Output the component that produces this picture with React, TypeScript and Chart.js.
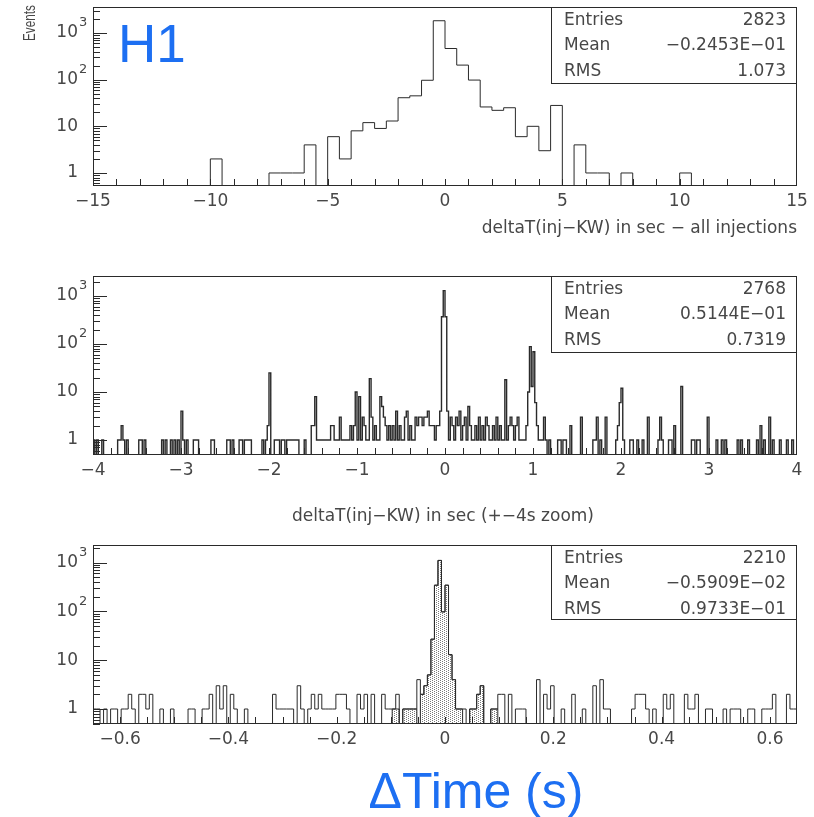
import React, { useEffect, useRef } from "react";
import { Chart, registerables } from "chart.js";

Chart.register(...registerables);

// ---- Panel 1: all injections, 0.5 s bins over ±15 s (left bin edge -> entries)
const allBinLeft = [-10, -7.5, -7, -6.5, -6, -5, -4.5, -4, -3.5, -3, -2.5, -2, -1.5, -1, -0.5, 0, 0.5, 1, 1.5, 2, 2.5, 3, 3.5, 4, 4.5, 5.5, 6, 6.5, 7.5, 10];
const allCounts = [2, 1, 1, 1, 4, 6, 2, 8, 12, 9, 13, 41, 45, 97, 1830, 465, 205, 98, 26, 22, 25, 6, 10, 3, 28, 4, 1, 1, 1, 1];

// ---- Panel 2: ±4 s zoom, 0.02 s bins (left bin edge -> entries)
const zoomBinLeft = [
  -4.0, -3.96, -3.9,
  -3.72, -3.7, -3.68, -3.66, -3.62,
  -3.48, -3.46, -3.42,
  -3.22, -3.18, -3.12, -3.08, -3.04, -3.0, -2.98,
  -2.94, -2.86, -2.84, -2.82,
  -2.66, -2.64,
  -2.48, -2.46, -2.42,
  -2.34, -2.32, -2.28, -2.26, -2.24, -2.22,
  -2.08, -2.04, -2.02, -2.0,
  -1.94, -1.92, -1.9, -1.86, -1.84, -1.8, -1.78, -1.76, -1.74, -1.72, -1.7, -1.68,
  -1.6,
  -1.52, -1.5, -1.48, -1.46, -1.44, -1.42, -1.4,
  -1.38, -1.36, -1.34, -1.32, -1.3, -1.28, -1.26, -1.24, -1.22,
  -1.2, -1.18, -1.16, -1.14, -1.12, -1.1,
  -1.08, -1.06, -1.04, -1.02, -1.0, -0.98, -0.96,
  -0.94, -0.92, -0.9, -0.88, -0.86, -0.84, -0.82, -0.8, -0.78,
  -0.76, -0.74, -0.72, -0.7, -0.68, -0.66, -0.64,
  -0.62, -0.6, -0.58, -0.56, -0.54,
  -0.52, -0.5, -0.48, -0.46, -0.44, -0.42, -0.4,
  -0.38, -0.36, -0.34, -0.32, -0.3, -0.28, -0.26, -0.24, -0.22, -0.2, -0.18,
  -0.16, -0.14, -0.12, -0.1, -0.08, -0.06,
  -0.04, -0.02, 0.0, 0.02,
  0.04, 0.06, 0.08, 0.1, 0.12, 0.14, 0.16, 0.18, 0.2, 0.22, 0.24, 0.26, 0.28, 0.3,
  0.32, 0.34, 0.36, 0.38, 0.4, 0.42, 0.44, 0.46, 0.48,
  0.5, 0.52, 0.54, 0.56, 0.58, 0.6, 0.62, 0.64, 0.66, 0.68, 0.7,
  0.72, 0.74, 0.76, 0.78, 0.8, 0.82, 0.84, 0.86,
  0.88, 0.9, 0.92, 0.94, 0.96, 0.98, 1.0, 1.02,
  1.04, 1.06, 1.08, 1.1, 1.12, 1.14, 1.18,
  1.28, 1.3, 1.34, 1.36, 1.42, 1.54,
  1.68, 1.7, 1.72, 1.76, 1.82,
  1.94, 1.96, 1.98, 2.0, 2.02,
  2.1, 2.12, 2.18, 2.24, 2.3,
  2.42, 2.44, 2.46, 2.54, 2.56, 2.6,
  2.68,
  2.8, 2.82, 2.86, 2.88,
  2.98, 3.08, 3.14, 3.18,
  3.32, 3.36, 3.44, 3.54, 3.58, 3.62, 3.68, 3.72, 3.8, 3.88, 3.94,
];
const zoomCounts = [
  1, 1, 1,
  1, 1, 2, 1, 1,
  1, 1, 1,
  1, 1, 1, 1, 1, 4, 1,
  1, 1, 1, 1,
  1, 1,
  1, 1, 1,
  1, 1, 1, 1, 1, 1,
  1, 1, 2, 25,
  1, 1, 1, 1, 1, 1, 1, 1, 1, 1, 1, 1,
  1,
  2, 2, 8, 1, 1, 1, 1,
  1, 1, 1, 1, 2, 2, 1, 1, 1,
  3, 1, 1, 1, 1, 1,
  2, 1, 2, 10, 1, 8, 1,
  3, 2, 1, 1, 19, 3, 1, 2, 1,
  1, 8, 5, 3, 2, 1, 2,
  1, 2, 1, 4, 1,
  2, 1, 1, 3, 4, 1, 2,
  1, 1, 3, 2, 3, 3, 2, 3, 3, 4, 2,
  2, 2, 1, 2, 2, 4,
  370, 1290, 370, 4,
  1, 3, 2, 1, 3, 2, 4, 1, 2, 3, 1, 5, 2, 1,
  1, 2, 1, 3, 1, 2, 1, 3, 2,
  1, 1, 2, 1, 3, 1, 2, 1, 1, 18, 1,
  2, 3, 2, 1, 2, 3, 1, 1,
  1, 1, 2, 10, 88, 13, 69, 6,
  2, 1, 1, 1, 3, 1, 1,
  1, 1, 1, 1, 2, 3,
  1, 1, 3, 1, 3,
  1, 2, 6, 12, 1,
  1, 1, 1, 1, 3,
  1, 3, 1, 1, 1, 2,
  13,
  1, 1, 1, 1,
  3, 1, 1, 1,
  1, 1, 1, 1, 2, 1, 3, 1, 1, 1, 1,
];

// ---- Panel 3: ±0.65 s, 200 bins of 0.0065 s (bin index -> entries)
const fineBins = [
  0, 1, 3, 5, 6, 8, 9, 10, 11, 13, 14, 15, 16, 19, 22, 27, 28, 31, 32, 33, 35, 36, 37, 39, 40, 43,
  51, 52, 53, 54, 55, 56, 58, 59, 61, 62, 63, 64, 65, 66, 67, 68, 69, 70, 71, 72, 75, 76, 77, 79,
  82, 83, 84, 85, 86, 88, 89, 90, 91, 92, 93, 94, 95, 96, 97, 98, 99, 100, 101, 102, 103, 104, 105,
  107, 108, 109, 110, 113, 114, 115, 116, 118, 120, 121, 122, 126, 128, 129, 130, 133, 136, 139,
  142, 144, 145, 146, 153, 154, 155, 156, 157, 159, 162, 163, 164, 168, 169, 170, 171, 174, 175,
  179, 181, 182, 183, 186, 187, 190, 191, 192, 193, 197, 198, 199,
];
const fineCounts = [
  1, 1, 1, 1, 1, 1, 1, 2, 1, 2, 2, 1, 2, 1, 1, 1, 1, 1, 1, 2, 3, 1, 3, 2, 1, 1,
  2, 1, 1, 1, 1, 1, 3, 1, 1, 2, 1, 2, 1, 1, 1, 1, 2, 2, 2, 1, 2, 1, 2, 2,
  2, 1, 1, 1, 2, 1, 1, 1, 1, 4, 2, 3, 5, 27, 345, 1110, 98, 345, 13, 4, 1, 1, 1,
  1, 1, 2, 3, 1, 1, 2, 2, 2, 1, 1, 1, 4, 2, 1, 3, 1, 2, 1,
  3, 4, 1, 1, 1, 2, 2, 2, 1, 1, 2, 1, 2, 2, 1, 1, 2, 1, 1,
  1, 1, 1, 1, 1, 1, 1, 1, 1, 2, 2, 1, 1,
];
// entries inside the coincidence window (stippled)
const windowBins = [85, 86, 88, 89, 90, 91, 93, 94, 95, 96, 97, 98, 99, 100, 101, 102, 103, 104, 107, 108, 109, 110, 113, 114];
const windowCounts = [1, 1, 1, 1, 1, 1, 2, 3, 5, 27, 345, 1110, 98, 345, 13, 4, 1, 1, 1, 1, 2, 3, 1, 1];

// ---- axis labels
const yLabelValues = [1, 10, 100, 1000];
const yLabelBase = ["1", "10", "10", "10"];
const yLabelExp = ["", "", "2", "3"];
const allTicks = [-15, -10, -5, 0, 5, 10, 15];
const allTickText = ["\u221215", "\u221210", "\u22125", "0", "5", "10", "15"];
const zoomTicks = [-4, -3, -2, -1, 0, 1, 2, 3, 4];
const zoomTickText = ["\u22124", "\u22123", "\u22122", "\u22121", "0", "1", "2", "3", "4"];
const fineTicks = [-0.6, -0.4, -0.2, 0, 0.2, 0.4, 0.6];
const fineTickText = ["\u22120.6", "\u22120.4", "\u22120.2", "0", "0.2", "0.4", "0.6"];

const FLOOR = 1e-3;
const INK = "#2a2a2a";
const TEXT = "#474747";
const BLUE = "#1d6ff2";
const FONT = '"DejaVu Sans", "Liberation Sans", sans-serif';

function stepPoints(lo: number, width: number, nBins: number, lefts: number[], counts: number[]) {
  const vals: number[] = new Array(nBins).fill(FLOOR);
  lefts.forEach((l, i) => {
    const k = Math.round((l - lo) / width);
    if (k >= 0 && k < nBins) vals[k] = counts[i];
  });
  const pts = [{ x: lo, y: FLOOR }];
  for (let k = 0; k < nBins; k++) pts.push({ x: lo + k * width, y: vals[k] });
  pts.push({ x: lo + nBins * width, y: FLOOR });
  return pts;
}

function stipple(): CanvasPattern | string {
  const c = document.createElement("canvas");
  c.width = 4;
  c.height = 2;
  const g = c.getContext("2d");
  if (!g) return "#d6d6d6";
  g.fillStyle = "#7a7a7a";
  g.fillRect(0, 0, 1, 1);
  g.fillRect(2, 1, 1, 1);
  return g.createPattern(c, "repeat") || "#d6d6d6";
}

type Extra = {
  text: string;
  x: number;
  y: number;
  font: string;
  color: string;
  align: CanvasTextAlign;
  rotate?: boolean;
  length?: number;
};

type PawOpts = {
  minorStep: number;
  tickValues: number[];
  tickText: string[];
  stats: [string, string][];
  statsHeight: number;
  title?: { text: string; x: number; y: number; align: CanvasTextAlign };
  extra?: Extra[];
};

const pawPlugin = {
  id: "paw",
  afterDraw(chart: any, _args: any, o: PawOpts) {
    const { ctx, chartArea: a } = chart;
    const x = chart.scales.x;
    const y = chart.scales.y;
    ctx.save();
    ctx.strokeStyle = INK;
    ctx.lineWidth = 1;

    // frame
    ctx.strokeRect(a.left + 0.5, a.top + 0.5, a.right - a.left - 1, a.bottom - a.top - 1);

    // log ticks on the left edge, pointing inwards
    ctx.beginPath();
    const d0 = Math.floor(Math.log10(y.min));
    const d1 = Math.ceil(Math.log10(y.max));
    for (let d = d0; d <= d1; d++) {
      for (let m = 1; m <= 9; m++) {
        const v = m * Math.pow(10, d);
        if (v < y.min || v > y.max) continue;
        const py = Math.round(y.getPixelForValue(v)) + 0.5;
        const len = m === 1 ? 14 : 7;
        ctx.moveTo(a.left, py);
        ctx.lineTo(a.left + len, py);
      }
    }
    // x ticks on the bottom edge
    const n = Math.round((x.max - x.min) / o.minorStep);
    for (let i = 1; i < n; i++) {
      const v = x.min + i * o.minorStep;
      const px = Math.round(x.getPixelForValue(v)) + 0.5;
      ctx.moveTo(px, a.bottom);
      ctx.lineTo(px, a.bottom - 7);
    }
    ctx.stroke();

    // y labels
    ctx.fillStyle = TEXT;
    ctx.textBaseline = "middle";
    yLabelValues.forEach((v, i) => {
      const py = y.getPixelForValue(v);
      ctx.font = `17px ${FONT}`;
      ctx.textAlign = "right";
      ctx.fillText(yLabelBase[i], 78, py);
      if (yLabelExp[i]) {
        ctx.font = `13px ${FONT}`;
        ctx.textAlign = "left";
        ctx.fillText(yLabelExp[i], 79, py - 10);
      }
    });

    // x labels
    ctx.font = `17px ${FONT}`;
    ctx.textAlign = "center";
    o.tickValues.forEach((v, i) => {
      ctx.fillText(o.tickText[i], x.getPixelForValue(v), a.bottom + 16);
    });

    // statistics box
    const bx = 551;
    ctx.fillStyle = "#fff";
    ctx.fillRect(bx + 1, a.top + 1, a.right - bx - 2, o.statsHeight - 1);
    ctx.strokeRect(bx + 0.5, a.top + 0.5, a.right - bx - 1, o.statsHeight);
    ctx.fillStyle = TEXT;
    o.stats.forEach(([k, v], i) => {
      const ty = a.top + 13.5 + i * 25.3;
      ctx.textAlign = "left";
      ctx.fillText(k, 564, ty);
      ctx.textAlign = "right";
      ctx.fillText(v, 786, ty);
    });

    if (o.title) {
      ctx.textAlign = o.title.align;
      ctx.fillText(o.title.text, o.title.x, o.title.y);
    }

    (o.extra || []).forEach((e) => {
      ctx.save();
      ctx.font = e.font;
      ctx.fillStyle = e.color;
      ctx.textAlign = e.align;
      ctx.textBaseline = "alphabetic";
      if (e.rotate) {
        ctx.translate(e.x, e.y);
        ctx.rotate(-Math.PI / 2);
        const tw = ctx.measureText(e.text).width;
        if (e.length && tw > 0) ctx.scale(e.length / tw, 1);
        ctx.fillText(e.text, 0, 0);
      } else {
        ctx.fillText(e.text, e.x, e.y);
      }
      ctx.restore();
    });
    ctx.restore();
  },
};

function makeChart(
  canvas: HTMLCanvasElement,
  datasets: any[],
  xr: [number, number],
  yr: [number, number],
  padding: { left: number; right: number; top: number; bottom: number },
  paw: PawOpts
) {
  return new Chart(canvas, {
    type: "line",
    data: { datasets },
    options: {
      animation: false,
      responsive: false,
      devicePixelRatio: 1,
      events: [],
      layout: { padding },
      elements: { point: { radius: 0 }, line: { tension: 0 } },
      plugins: { legend: { display: false }, tooltip: { enabled: false }, paw } as any,
      scales: {
        x: { type: "linear", min: xr[0], max: xr[1], display: false },
        y: { type: "logarithmic", min: yr[0], max: yr[1], display: false },
      },
    },
    plugins: [pawPlugin as any],
  });
}

function outline(data: any[], width = 1) {
  return { data, stepped: true, borderColor: INK, borderWidth: width, fill: false, pointRadius: 0, clip: 0 };
}

export default function App() {
  const c1 = useRef<HTMLCanvasElement>(null);
  const c2 = useRef<HTMLCanvasElement>(null);
  const c3 = useRef<HTMLCanvasElement>(null);

  useEffect(() => {
    if (!c1.current || !c2.current || !c3.current) return;
    const charts: Chart[] = [];

    charts.push(
      makeChart(
        c1.current,
        [outline(stepPoints(-15, 0.5, 60, allBinLeft, allCounts))],
        [-15, 15],
        [0.526, 3606],
        { left: 93, right: 17, top: 7, bottom: 59 },
        {
          minorStep: 1,
          tickValues: allTicks,
          tickText: allTickText,
          stats: [["Entries", "2823"], ["Mean", "\u22120.2453E\u221201"], ["RMS", "1.073"]],
          statsHeight: 76,
          title: { text: "deltaT(inj\u2212KW) in sec \u2212 all injections", x: 797, y: 229, align: "right" },
          extra: [
            { text: "Events", x: 35, y: 41, font: `17px "Liberation Sans", Arial, sans-serif`, color: TEXT, align: "left", rotate: true, length: 36 },
            { text: "H1", x: 118, y: 62, font: '53px "Liberation Sans", Arial, sans-serif', color: BLUE, align: "left" },
          ],
        }
      )
    );

    charts.push(
      makeChart(
        c2.current,
        [outline(stepPoints(-4, 0.02, 400, zoomBinLeft, zoomCounts), 1.4)],
        [-4, 4],
        [0.488, 2607],
        { left: 93, right: 17, top: 26, bottom: 75 },
        {
          minorStep: 0.2,
          tickValues: zoomTicks,
          tickText: zoomTickText,
          stats: [["Entries", "2768"], ["Mean", "0.5144E\u221201"], ["RMS", "0.7319"]],
          statsHeight: 76,
          title: { text: "deltaT(inj\u2212KW) in sec (+\u22124s zoom)", x: 443, y: 267, align: "center" },
        }
      )
    );

    const w = 0.0065;
    charts.push(
      makeChart(
        c3.current,
        [
          {
            data: stepPoints(-0.65, w, 200, windowBins.map((b) => -0.65 + b * w), windowCounts),
            stepped: true,
            borderColor: INK,
            borderWidth: 1,
            backgroundColor: stipple(),
            fill: "start",
            pointRadius: 0,
            clip: 0,
          },
          outline(stepPoints(-0.65, w, 200, fineBins.map((b) => -0.65 + b * w), fineCounts)),
        ],
        [-0.65, 0.65],
        [0.493, 2300],
        { left: 93, right: 17, top: 15, bottom: 93 },
        {
          minorStep: 0.05,
          tickValues: fineTicks,
          tickText: fineTickText,
          stats: [["Entries", "2210"], ["Mean", "\u22120.5909E\u221202"], ["RMS", "0.9733E\u221201"]],
          statsHeight: 74,
          extra: [
            { text: "\u0394Time (s)", x: 476, y: 278, font: '50px "Liberation Sans", Arial, sans-serif', color: BLUE, align: "center" },
          ],
        }
      )
    );

    return () => charts.forEach((c) => c.destroy());
  }, []);

  const pos = (top: number): React.CSSProperties => ({ position: "absolute", left: 0, top });
  return (
    <div style={{ position: "absolute", left: 0, top: 0, width: 814, height: 817, background: "#fff" }}>
      <canvas ref={c1} width={814} height={245} style={pos(0)} />
      <canvas ref={c2} width={814} height={280} style={pos(250)} />
      <canvas ref={c3} width={814} height={287} style={pos(530)} />
    </div>
  );
}
